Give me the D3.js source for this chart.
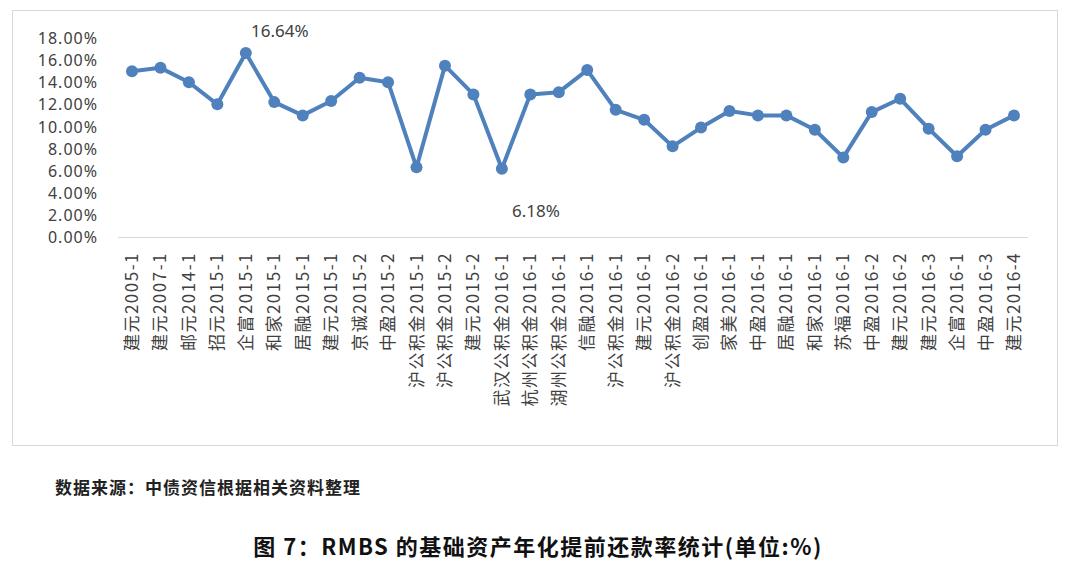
<!DOCTYPE html>
<html><head><meta charset="utf-8">
<script src="https://cdn.jsdelivr.net/npm/d3@7"></script>
<style>body{margin:0;background:#fff;font-family:"Noto Sans CJK SC","Noto Sans",sans-serif;}</style>
</head><body>
<svg width="1080" height="568"></svg>
<script>
const categories = ["建元2005-1","建元2007-1","邮元2014-1","招元2015-1","企富2015-1","和家2015-1","居融2015-1","建元2015-1","京诚2015-2","中盈2015-2","沪公积金2015-1","沪公积金2015-2","建元2015-2","武汉公积金2016-1","杭州公积金2016-1","湖州公积金2016-1","信融2016-1","沪公积金2016-1","建元2016-1","沪公积金2016-2","创盈2016-1","家美2016-1","中盈2016-1","居融2016-1","和家2016-1","苏福2016-1","中盈2016-2","建元2016-2","建元2016-3","企富2016-1","中盈2016-3","建元2016-4"];
const values = [15.0,15.3,14.0,12.0,16.64,12.2,11.0,12.3,14.4,14.0,6.3,15.5,12.9,6.18,12.9,13.1,15.1,11.5,10.6,8.2,9.9,11.4,11.0,11.0,9.7,7.2,11.3,12.5,9.8,7.3,9.7,11.0];
const yTicks = [0,2,4,6,8,10,12,14,16,18];
const annotations = [{i:4,text:"16.64%",dy:-16},{i:13,text:"6.18%",dy:48}];

const svg = d3.select("svg");
svg.append("rect").attr("x",12.5).attr("y",10.5).attr("width",1045).attr("height",435)
  .attr("fill","none").attr("stroke","#d9d9d9");

const x = d3.scalePoint().domain(categories).range([132,1014]);
const y = d3.scaleLinear().domain([0,18]).range([237,38]);
const color = "#4f81bd";

svg.append("g").attr("transform","translate(118,0)")
  .call(d3.axisLeft(y).tickValues(yTicks).tickSize(0).tickPadding(20).tickFormat(d=>d.toFixed(2)+"%"))
  .call(g=>g.select(".domain").remove())
  .selectAll("text").attr("font-size",16).attr("letter-spacing",1).attr("fill","#404040")
  .attr("font-family","Noto Sans, sans-serif").attr("dy","0.35em");

svg.append("line").attr("x1",118).attr("x2",1028).attr("y1",237.5).attr("y2",237.5).attr("stroke","#d9d9d9");

svg.append("g").selectAll("text").data(categories).join("text")
  .attr("transform",d=>`translate(${x(d)+6},252) rotate(-90)`)
  .attr("text-anchor","end").attr("font-size",17).attr("letter-spacing",1.5).attr("fill","#404040").text(d=>d);

svg.append("path").datum(values)
  .attr("d",d3.line().x((d,i)=>x(categories[i])).y(d=>y(d)))
  .attr("fill","none").attr("stroke",color).attr("stroke-width",4).attr("stroke-linejoin","round");

svg.append("g").selectAll("circle").data(values).join("circle")
  .attr("cx",(d,i)=>x(categories[i])).attr("cy",d=>y(d)).attr("r",6).attr("fill",color);

svg.append("g").selectAll("text").data(annotations).join("text")
  .attr("x",d=>x(categories[d.i])+34).attr("y",d=>y(values[d.i])+d.dy)
  .attr("text-anchor","middle").attr("font-size",17).attr("fill","#404040").attr("font-family","Noto Sans, sans-serif")
  .text(d=>d.text);

svg.append("text").attr("x",55).attr("y",494).attr("font-size",17).attr("letter-spacing",1).attr("font-weight","bold")
  .attr("fill","#222").text("数据来源：中债资信根据相关资料整理");
svg.append("text").attr("x",538).attr("y",555).attr("text-anchor","middle").attr("font-size",22)
  .attr("letter-spacing",1.5).attr("font-weight","bold").attr("fill","#111").text("图 7：RMBS 的基础资产年化提前还款率统计(单位:%)");
</script>
</body></html>
